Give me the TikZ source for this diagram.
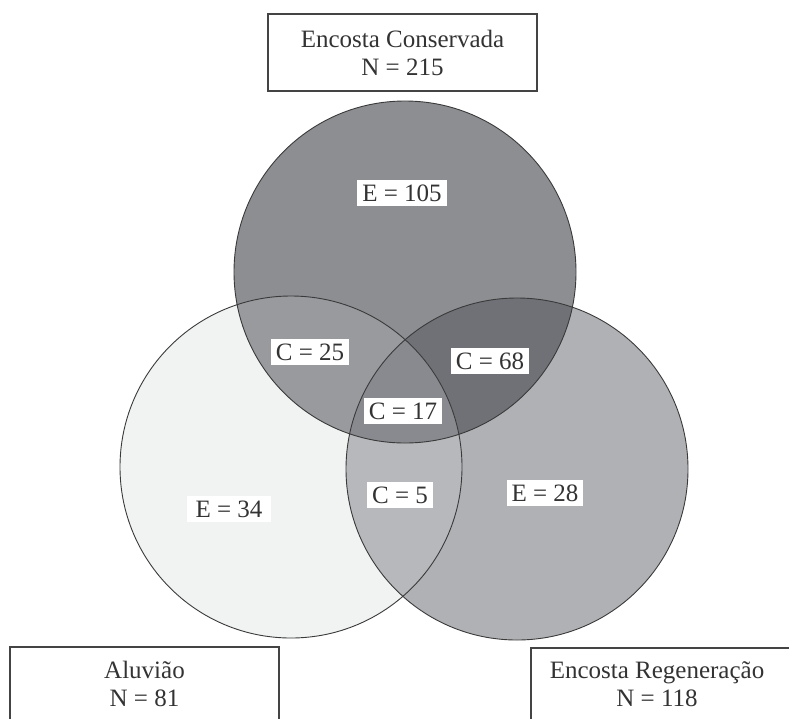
\documentclass[tikz,border=0pt]{standalone}
\usepackage{fontspec}
\setmainfont{Liberation Serif}
\begin{document}
\begin{tikzpicture}[x=1pt,y=-1pt,
  every node/.style={font=\fontsize{25}{28}\selectfont, text=txt},
  lbl/.style={fill=white, inner xsep=5pt, inner ysep=4.5pt},
  setbox/.style={draw=boxline, line width=1.2pt},
  ring/.style={draw=ringline, line width=0.9pt}]
\definecolor{txt}{HTML}{333333}
\definecolor{boxline}{HTML}{444444}
\definecolor{ringline}{HTML}{3A3A3A}
\definecolor{cT}{HTML}{8D8E92}
\definecolor{cL}{HTML}{F1F2F2}
\definecolor{cR}{HTML}{B0B1B4}
\definecolor{cTL}{HTML}{999A9E}
\definecolor{cTR}{HTML}{707176}
\definecolor{cLR}{HTML}{B7B8BB}
\definecolor{cTLR}{HTML}{898A8F}
\useasboundingbox (0,0) rectangle (789,718);
\clip (0,0) rectangle (789,718);
\coordinate (T) at (405,272);
\coordinate (L) at (291,467);
\coordinate (R) at (517,469);
% fills
\fill[cL] (L) circle (171pt);
\fill[cR] (R) circle (171pt);
\fill[cT] (T) circle (171pt);
\begin{scope}\clip (T) circle (171pt); \fill[cTL] (L) circle (171pt);\end{scope}
\begin{scope}\clip (T) circle (171pt); \fill[cTR] (R) circle (171pt);\end{scope}
\begin{scope}\clip (L) circle (171pt); \fill[cLR] (R) circle (171pt);\end{scope}
\begin{scope}\clip (T) circle (171pt); \clip (L) circle (171pt); \fill[cTLR] (R) circle (171pt);\end{scope}
% outlines
\draw[ring] (T) circle (171pt);
\draw[ring] (L) circle (171pt);
\draw[ring] (R) circle (171pt);
% region labels
\node[lbl] (e105) at (402,193) {E = 105};
\node[lbl] (c25) at (310,352) {C = 25};
\node[lbl] (c68) at (490,361) {C = 68};
\node[lbl] (c17) at (403,411) {C = 17};
\node[lbl] (c5) at (400,495) {C = 5};
\node[lbl] (e28) at (545,493) {E = 28};
\node[lbl, inner xsep=9pt] (e34) at (229,509) {E = 34};
% set boxes
\draw[setbox] (268,14) rectangle (537,91);
\node[align=center] (tcons) at (402.5,53) {Encosta Conservada\\N = 215};
\draw[setbox] (10,647) rectangle (279,740);
\node[align=center] (talu) at (144.5,684) {Aluvião\\N = 81};
\draw[setbox] (531,648) rectangle (800,740);
\node[align=center] (treg) at (657,684) {Encosta Regeneração\\N = 118};
\end{tikzpicture}
\end{document}
